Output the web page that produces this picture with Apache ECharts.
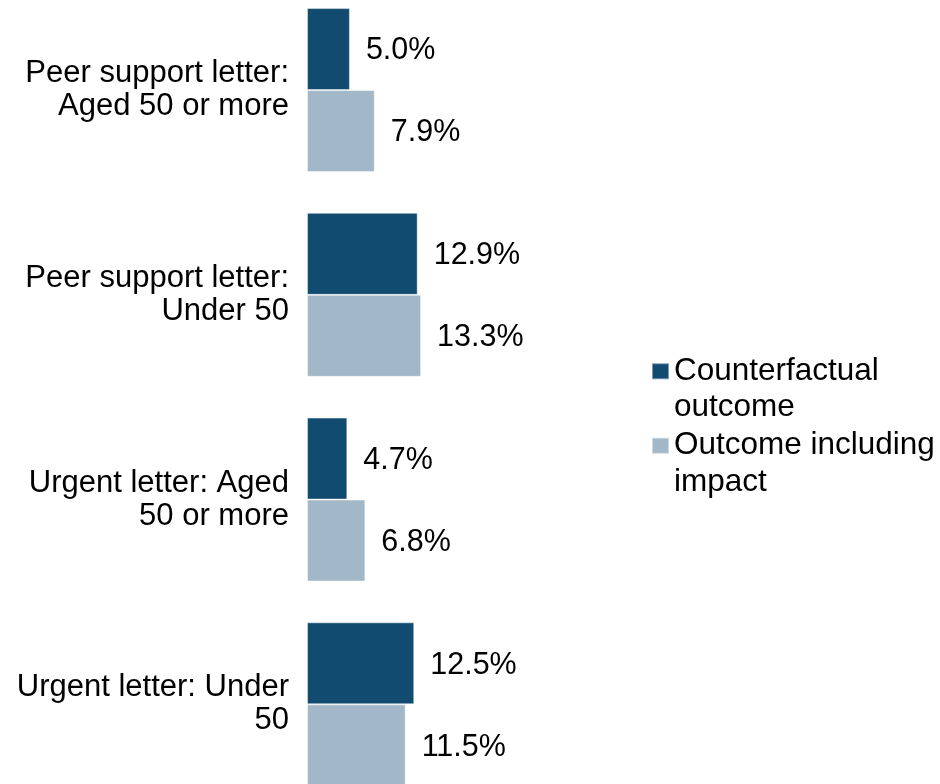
<!DOCTYPE html>
<html>
<head>
<meta charset="utf-8">
<script src="https://cdn.jsdelivr.net/npm/echarts@6/dist/echarts.min.js"></script>
<style>
  html, body { margin: 0; padding: 0; background: #ffffff; }
  #chart { width: 940px; height: 784px; }
</style>
</head>
<body>
<div id="chart"></div>
<script>
// Letter groups, top to bottom
const categories = [
  'Peer support letter: Aged 50 or more',
  'Peer support letter: Under 50',
  'Urgent letter: Aged 50 or more',
  'Urgent letter: Under 50'
];
// Percentages per group
const counterfactual = [5.0, 12.9, 4.7, 12.5];
const withImpact = [7.9, 13.3, 6.8, 11.5];
const seriesNames = ['Counterfactual outcome', 'Outcome including impact'];

const FONT = "'Liberation Sans', Arial, sans-serif";
const DARK = '#124b70';
const LIGHT = '#a2b8c8';
const AXIS_SIZE = 31;
const VALUE_SIZE = 30.5;
const LEGEND_SIZE = 31.5;

// Greedy word wrap measured with the same font the chart uses
const measureCtx = document.createElement('canvas').getContext('2d');
function wrapWords(text, size, maxWidth) {
  measureCtx.font = size + 'px ' + FONT;
  const words = text.split(' ');
  const lines = [];
  let line = '';
  words.forEach(w => {
    const trial = line ? line + ' ' + w : w;
    if (line && measureCtx.measureText(trial).width > maxWidth) {
      lines.push(line);
      line = w;
    } else {
      line = trial;
    }
  });
  if (line) lines.push(line);
  return lines;
}

const valueLabel = {
  show: true,
  position: 'right',
  distance: 16,
  offset: [0, 2],
  fontFamily: FONT,
  fontSize: VALUE_SIZE,
  color: '#000000',
  formatter: p => p.value.toFixed(1) + '%'
};

function legendFor(name, color, top) {
  return {
    data: [{ name: name, itemStyle: { color: color } }],
    orient: 'vertical',
    left: 651,
    top: top,
    padding: 0,
    icon: 'rect',
    itemWidth: 17,
    itemHeight: 16,
    selectedMode: false,
    // leading empty line keeps the first text line level with the swatch
    formatter: n => '\n' + wrapWords(n, LEGEND_SIZE, 265).join('\n'),
    textStyle: {
      fontFamily: FONT,
      fontSize: LEGEND_SIZE,
      color: '#000000',
      lineHeight: 36.5
    }
  };
}

const chart = echarts.init(document.getElementById('chart'), null, { renderer: 'canvas' });
chart.setOption({
  animation: false,
  backgroundColor: '#ffffff',
  grid: {
    left: 307, top: -12.3, width: 257.4, height: 819,
    containLabel: false,
    outerBoundsMode: 'none'
  },
  xAxis: {
    type: 'value',
    min: 0,
    max: 30,
    show: false
  },
  yAxis: {
    type: 'category',
    data: categories,
    inverse: true,
    axisLine: { show: false },
    axisTick: { show: false },
    splitLine: { show: false },
    axisLabel: {
      margin: 18,
      fontFamily: FONT,
      fontSize: AXIS_SIZE,
      lineHeight: 33,
      color: '#000000',
      align: 'right',
      formatter: v => wrapWords(v, AXIS_SIZE, 290).join('\n')
    }
  },
  legend: [
    legendFor(seriesNames[0], DARK, 316.5),
    legendFor(seriesNames[1], LIGHT, 391)
  ],
  series: [
    {
      name: seriesNames[0],
      type: 'bar',
      data: counterfactual,
      barWidth: 82,
      barGap: '0%',
      itemStyle: { color: DARK, borderColor: 'rgba(255,255,255,0.45)', borderWidth: 1 },
      label: valueLabel
    },
    {
      name: seriesNames[1],
      type: 'bar',
      data: withImpact,
      barWidth: 82,
      barGap: '0%',
      itemStyle: { color: LIGHT, borderColor: 'rgba(255,255,255,0.45)', borderWidth: 1 },
      label: valueLabel
    }
  ]
});
</script>
</body>
</html>
